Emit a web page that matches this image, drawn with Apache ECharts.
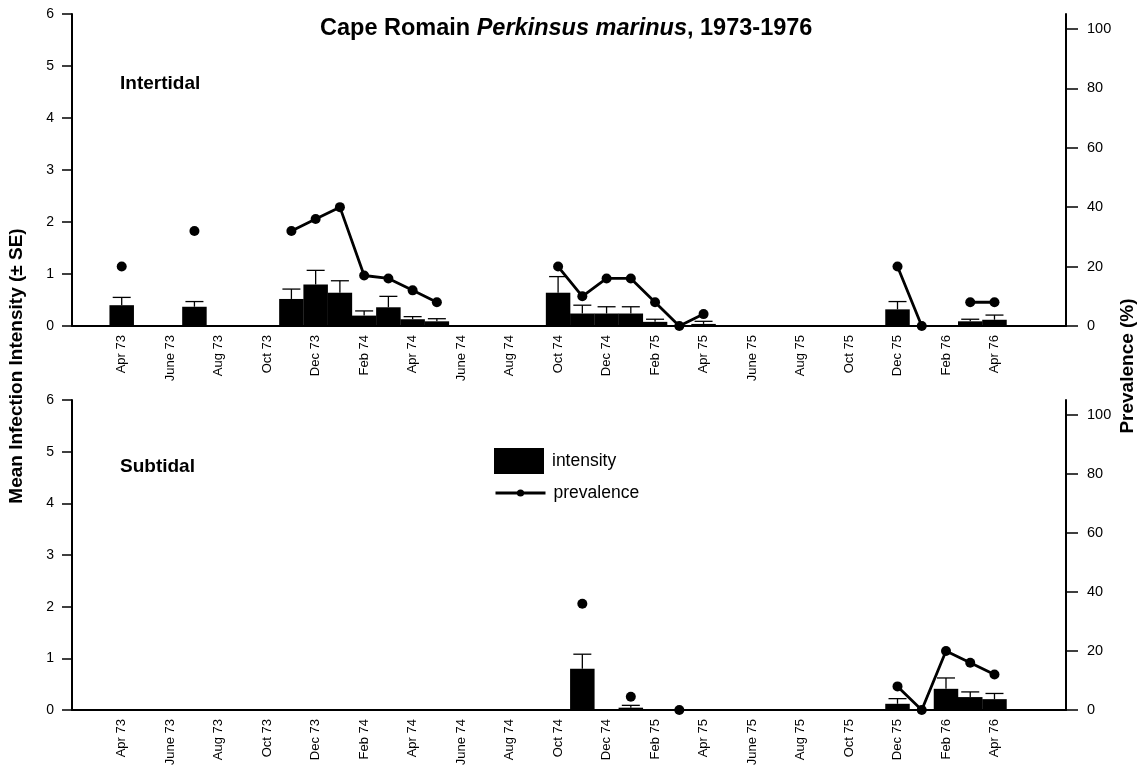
<!DOCTYPE html>
<html>
<head>
<meta charset="utf-8">
<script src="https://cdn.jsdelivr.net/npm/echarts@6/dist/echarts.min.js"></script>
<style>
  html, body { margin: 0; padding: 0; background: #fff; }
  #chart { width: 1143px; height: 778px; }
</style>
</head>
<body>
<div id="chart"></div>
<script>
// months counted from Apr 1973 (0) to Apr 1976 (36)
const tickMonths = [0, 2, 4, 6, 8, 10, 12, 14, 16, 18, 20, 22, 24, 26, 28, 30, 32, 34, 36];
const tickLabels = ['Apr 73', 'June 73', 'Aug 73', 'Oct 73', 'Dec 73', 'Feb 74', 'Apr 74', 'June 74',
  'Aug 74', 'Oct 74', 'Dec 74', 'Feb 75', 'Apr 75', 'June 75', 'Aug 75', 'Oct 75', 'Dec 75', 'Feb 76', 'Apr 76'];
const prevalenceTicks = [0, 20, 40, 60, 80, 100];

// Intertidal
const interMonths = [0, 3, 7, 8, 9, 10, 11, 12, 13, 18, 19, 20, 21, 22, 23, 24, 32, 33, 35, 36];
const interMean = [0.40, 0.37, 0.52, 0.80, 0.64, 0.20, 0.36, 0.13, 0.09, 0.64, 0.24, 0.24, 0.24, 0.08, 0, 0.04, 0.32, 0, 0.09, 0.12];
const interSE = [0.15, 0.10, 0.19, 0.27, 0.23, 0.09, 0.21, 0.05, 0.05, 0.31, 0.16, 0.13, 0.13, 0.05, 0, 0.05, 0.15, 0, 0.04, 0.09];
const interPrev = [20, 32, 32, 36, 40, 17, 16, 12, 8, 20, 10, 16, 16, 8, 0, 4, 20, 0, 8, 8];

// Subtidal
const subMonths = [19, 21, 23, 32, 33, 34, 35, 36];
const subMean = [0.80, 0.045, 0, 0.12, 0, 0.41, 0.25, 0.21];
const subSE = [0.28, 0.045, 0, 0.10, 0, 0.21, 0.10, 0.11];
const subPrev = [36, 4.5, 0, 8, 0, 20, 16, 12];

const SANS = "'Liberation Sans', Arial, sans-serif";

const myChart = echarts.init(document.getElementById('chart'), null, { renderer: 'canvas' });

const axisFont = { color: '#000', fontFamily: SANS, fontSize: 13 };
const blackLine = { color: '#000', width: 2 };

const grids = [
  { left: 72, right: 77, top: 14, height: 312 },
  { left: 72, right: 77, top: 400, height: 310 },
];

const xAxes = grids.map((g, i) => ({
  type: 'value',
  gridIndex: i,
  min: -2.05,
  max: 38.95,
  axisLine: { onZero: false, lineStyle: blackLine },
  axisTick: { show: false },
  splitLine: { show: false },
  axisLabel: {
    ...axisFont,
    rotate: 90,
    margin: 9,
    customValues: tickMonths,
    formatter: v => tickLabels[tickMonths.indexOf(Math.round(v))] || '',
  },
}));

const yAxes = [];
grids.forEach((g, i) => {
  yAxes.push({
    type: 'value',
    gridIndex: i,
    position: 'left',
    min: 0,
    max: 6,
    interval: 1,
    axisLine: { show: true, onZero: false, lineStyle: blackLine },
    axisTick: { show: true, length: 10, lineStyle: { color: '#000', width: 1.5 } },
    splitLine: { show: false },
    axisLabel: { ...axisFont, fontSize: 14, margin: 18 },
  });
  yAxes.push({
    type: 'value',
    gridIndex: i,
    position: 'right',
    min: 0,
    max: 105,
    axisLine: { show: true, onZero: false, lineStyle: blackLine },
    axisTick: { show: true, length: 12, lineStyle: { color: '#000', width: 1.5 }, customValues: prevalenceTicks },
    splitLine: { show: false },
    axisLabel: { ...axisFont, fontSize: 14.5, margin: 21, customValues: prevalenceTicks },
  });
});

function panelSeries(i, months, mean, se, prev) {
  const lineData = [];
  months.forEach((m, k) => {
    if (k > 0 && m - months[k - 1] > 1) lineData.push([m - 1, null]);
    lineData.push([m, prev[k]]);
  });
  return [
    {
      name: 'intensity',
      type: 'bar',
      xAxisIndex: i,
      yAxisIndex: i * 2,
      barWidth: 24.5,
      itemStyle: { color: '#000' },
      data: months.map((m, k) => [m, mean[k]]),
      z: 2,
    },
    {
      name: 'error',
      type: 'custom',
      xAxisIndex: i,
      yAxisIndex: i * 2,
      data: months.map((m, k) => [m, mean[k], mean[k] + se[k]]),
      renderItem: (params, api) => {
        if (api.value(2) - api.value(1) <= 0) return;
        const base = api.coord([api.value(0), api.value(1)]);
        const top = api.coord([api.value(0), api.value(2)]);
        const style = { stroke: '#000', lineWidth: 1.3 };
        return {
          type: 'group',
          children: [
            { type: 'line', shape: { x1: base[0], y1: base[1], x2: top[0], y2: top[1] }, style },
            { type: 'line', shape: { x1: top[0] - 9, y1: top[1], x2: top[0] + 9, y2: top[1] }, style },
          ],
        };
      },
      z: 3,
    },
    {
      name: 'prevalence',
      type: 'line',
      xAxisIndex: i,
      yAxisIndex: i * 2 + 1,
      data: lineData,
      connectNulls: false,
      showAllSymbol: true,
      symbol: 'circle',
      symbolSize: 10,
      lineStyle: { color: '#000', width: 2.8 },
      itemStyle: { color: '#000' },
      z: 4,
    },
  ];
}

const option = {
  animation: false,
  backgroundColor: '#fff',
  title: [
    {
      text: '{a|Cape Romain }{b|Perkinsus marinus}{a|, 1973-1976}',
      left: 315,
      top: 12,
      textStyle: {
        rich: {
          a: { fontFamily: SANS, fontWeight: 'bold', fontSize: 23.5, color: '#000' },
          b: { fontFamily: SANS, fontWeight: 'bold', fontStyle: 'italic', fontSize: 23.5, color: '#000' },
        },
      },
    },
    { text: 'Intertidal', left: 115, top: 69, textStyle: { fontFamily: SANS, fontWeight: 'bold', fontSize: 19, color: '#000' } },
    { text: 'Subtidal', left: 115, top: 452, textStyle: { fontFamily: SANS, fontWeight: 'bold', fontSize: 19, color: '#000' } },
  ],
  legend: [
    {
      data: ['intensity'],
      left: 489,
      top: 443,
      itemWidth: 50,
      itemHeight: 26,
      icon: 'rect',
      textStyle: { fontFamily: SANS, fontSize: 17.5, color: '#000', padding: [0, 0, 0, 3] },
    },
    {
      data: ['prevalence'],
      left: 489,
      top: 479,
      itemWidth: 50,
      itemHeight: 9,
      lineStyle: { width: 3 },
      textStyle: { fontFamily: SANS, fontSize: 17.5, color: '#000', padding: [0, 0, 0, 3] },
    },
  ],
  graphic: [
    {
      type: 'text',
      x: 17,
      y: 366,
      rotation: Math.PI / 2,
      style: { text: 'Mean Infection Intensity (\u00b1 SE)', fontFamily: SANS, fontWeight: 'bold', fontSize: 19, fill: '#000', align: 'center', verticalAlign: 'middle' },
    },
    {
      type: 'text',
      x: 1128,
      y: 366,
      rotation: Math.PI / 2,
      style: { text: 'Prevalence (%)', fontFamily: SANS, fontWeight: 'bold', fontSize: 19, fill: '#000', align: 'center', verticalAlign: 'middle' },
    },
  ],
  grid: grids,
  xAxis: xAxes,
  yAxis: yAxes,
  series: [
    ...panelSeries(0, interMonths, interMean, interSE, interPrev),
    ...panelSeries(1, subMonths, subMean, subSE, subPrev),
  ],
};

myChart.setOption(option);
window.addEventListener('resize', myChart.resize);
</script>
</body>
</html>
